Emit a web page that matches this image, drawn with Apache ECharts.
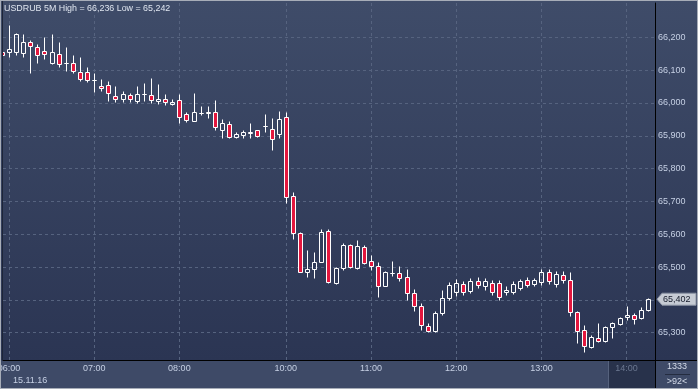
<!DOCTYPE html>
<html><head><meta charset="utf-8">
<script src="https://cdn.jsdelivr.net/npm/echarts@6/dist/echarts.min.js"></script>
<style>
html,body{margin:0;padding:0;background:#2b3553;}
#wrap{position:relative;width:698px;height:389px;overflow:hidden;background:linear-gradient(to bottom,#3f4c69 0px,#2b3553 360px,#3e4a67 361px,#3e4a67 389px);}
#c{position:absolute;left:0;top:0;width:698px;height:389px;}
#frame{position:absolute;left:0;top:0;width:696px;height:387px;border:1px solid #a7adb8;pointer-events:none;}
#inner{position:absolute;left:2px;top:1px;width:1px;height:359px;background:#1d2538;pointer-events:none;}
</style></head>
<body><div id="wrap"><div id="c"></div><div id="inner"></div><div id="frame"></div></div>
<script>
const times = ["05:55","06:00","06:05","06:10","06:15","06:20","06:25","06:30","06:35","06:40","06:45","06:50","06:55",
"07:00","07:05","07:10","07:15","07:20","07:25","07:30","07:35","07:40","07:45","07:50","07:55",
"08:00","08:05","08:10","08:15","08:20","08:25","08:30","08:35","08:40","08:45",
"09:35","09:40","09:45","09:50","09:55",
"10:00","10:05","10:10","10:15","10:20","10:25","10:30","10:35","10:40","10:45","10:50","10:55",
"11:00","11:05","11:10","11:15","11:20","11:25","11:30","11:35","11:40","11:45","11:50","11:55",
"12:00","12:05","12:10","12:15","12:20","12:25","12:30","12:35","12:40","12:45","12:50","12:55",
"13:00","13:05","13:10","13:15","13:20","13:25","13:30","13:35","13:40","13:45","13:50","13:55",
"14:00","14:05","14:10","14:15"];
const open = [66155,66156,66156,66151,66185,66170,66157,66123,66148,66121,
66121,66095,66093,66069,66051,66055,66021,66013,66024,66005,
66026,66023,66007,66011,65997,66008,65966,65946,65970,65969,
65971,65918,65935,65897,65903,65908,65917,65930,65920,65904,
65956,65716,65603,65484,65493,65516,65609,65452,65498,65566,
65496,65561,65517,65502,65443,65483,65481,65470,65421,65381,
65320,65305,65360,65406,65424,65448,65427,65457,65442,65452,
65452,65424,65424,65436,65461,65448,65455,65485,65448,65476,
65461,65363,65308,65257,65285,65274,65316,65326,65347,65353,
65344,65368];
const close = [66146,66163,66210,66186,66173,66145,66148,66154,66118,66121,
66097,66072,66070,66069,66045,66029,66013,66027,66011,66026,
66026,66008,66012,66002,66004,65956,65948,65971,65970,65971,
65926,65939,65895,65905,65911,65911,65899,65930,65889,65950,
65714,65603,65486,65493,65514,65606,65455,65496,65566,65499,
65563,65513,65502,65443,65485,65483,65467,65421,65381,65323,
65305,65360,65406,65445,65452,65424,65457,65445,65457,65424,
65409,65430,65448,65457,65445,65461,65485,65457,65479,65461,
65363,65306,65259,65288,65276,65316,65331,65346,65354,65342,
65368,65402];
const low = [66140,66141,66146,66141,66092,66123,66135,66118,66110,66098,
66090,66066,66065,66034,66037,66007,66003,66003,66004,65999,
66007,66001,65996,65994,65993,65938,65941,65944,65962,65955,
65918,65894,65894,65892,65893,65892,65897,65911,65857,65894,
65696,65586,65484,65471,65467,65514,65451,65449,65491,65497,
65494,65510,65491,65410,65441,65474,65457,65400,65366,65308,
65302,65302,65354,65400,65412,65415,65421,65436,65430,65415,
65400,65415,65418,65430,65439,65442,65445,65448,65439,65452,
65351,65268,65242,65254,65271,65272,65283,65324,65339,65326,
65342,65366];
const high = [66160,66236,66214,66210,66192,66180,66202,66210,66186,66171,
66147,66139,66110,66092,66073,66067,66052,66037,66029,66052,
66062,66076,66058,66027,66012,66027,65972,66030,65991,65991,
66009,65951,65945,65911,65918,65940,65919,65966,65953,65975,
65971,65728,65607,65552,65546,65616,65616,65501,65572,65570,
65582,65566,65537,65516,65489,65518,65503,65494,65433,65391,
65329,65366,65430,65455,65464,65457,65467,65470,65467,65461,
65461,65442,65457,65464,65470,65467,65494,65494,65488,65488,
65485,65366,65323,65292,65329,65321,65334,65349,65381,65359,
65377,65407];
const yTicks = [65300,65400,65500,65600,65700,65800,65900,66000,66100,66200];
const symbol = "USDRUB", period = "5M", dateLabel = "15.11.16";
const counterTop = "1333";

const hourIdx = times.map((t,i)=> t.endsWith(':00') ? i : -1).filter(i=>i>=0);
const fmt = v => String(Math.round(v)).replace(/\B(?=(\d{3})+$)/g, ',');
const lastIdx = times.length - 1;
const dimHour = times[hourIdx[hourIdx.length-1]];
const FONT = 'Arial, "Liberation Sans", sans-serif';
const FS = 9;
const UP_FILL = 'rgba(0,0,0,0)', DOWN_FILL = '#e3173e', EDGE = '#ffffff';

function renderCandle(params, api) {
  const x = api.value(0), o = api.value(1), c = api.value(2), l = api.value(3), h = api.value(4);
  const pO = api.coord([x, o]), pC = api.coord([x, c]), pL = api.coord([x, l]), pH = api.coord([x, h]);
  const cx = Math.round(pO[0]) + 0.5;
  const yTop = Math.round(Math.min(pO[1], pC[1])) + 0.5;
  const yBot = Math.round(Math.max(pO[1], pC[1])) + 0.5;
  const yH = Math.round(pH[1]) + 0.5, yL = Math.round(pL[1]) + 0.5;
  const up = c >= o;
  return {type:'group', children:[
    {type:'line', shape:{x1:cx, y1:yH, x2:cx, y2:yTop}, style:{stroke:EDGE, lineWidth:1}},
    {type:'line', shape:{x1:cx, y1:yBot, x2:cx, y2:yL}, style:{stroke:EDGE, lineWidth:1}},
    {type:'rect', shape:{x:cx-2, y:yTop, width:4, height:yBot-yTop}, style:{fill:up?UP_FILL:DOWN_FILL, stroke:EDGE, lineWidth:1}}
  ]};
}

const chart = echarts.init(document.getElementById('c'), null, {renderer:'canvas'});
const option = {
  animation:false,
  backgroundColor:'transparent',
  grid:{left:3, top:3, width:652, height:357, containLabel:false, outerBoundsMode:'none'},
  xAxis:{
    type:'value', min:0.155, max:92,
    axisLine:{show:true, onZero:false, lineStyle:{color:'#000', width:1}},
    axisTick:{show:false, customValues:hourIdx},
    axisLabel:{customValues:hourIdx, formatter:v=>times[v], fontSize:FS, fontFamily:FONT, margin:4,
      color:(v)=> times[v]===dimHour ? '#6b7790' : '#c6d0e4'},
    splitLine:{show:true, lineStyle:{color:'#56637f', type:[3,3], width:1}}
  },
  yAxis:{
    type:'value', position:'right', min:65216.8, max:66304.5,
    axisLine:{show:true, onZero:false, lineStyle:{color:'#000', width:1}},
    axisTick:{show:false, customValues:yTicks},
    axisLabel:{customValues:yTicks, formatter:fmt, color:'#c6d0e4', fontSize:FS, fontFamily:FONT, margin:3, align:'left'},
    splitLine:{show:true, lineStyle:{color:'#56637f', type:[3,3], width:1}}
  },
  series:[{
    type:'custom', clip:true,
    data: open.map((o,i)=>[i, o, close[i], low[i], high[i]]),
    encode:{x:0, y:[1,2,3,4]},
    renderItem: renderCandle
  }],
  graphic:[
    {type:'rect', z:-1, shape:{x:608, y:361, width:47, height:27}, style:{fill:'#28324b'}},
    {type:'line', z:-1, shape:{x1:608.5, y1:361, x2:608.5, y2:388}, style:{stroke:'#56627d', lineWidth:1}},
    {type:'line', z:50, shape:{x1:655.5, y1:360, x2:655.5, y2:388}, style:{stroke:'#000', lineWidth:1}},
    {type:'line', z:50, shape:{x1:655, y1:360.5, x2:698, y2:360.5}, style:{stroke:'#000', lineWidth:1}},
    {type:'text', z:50, x:677, y:367, style:{text:counterTop, fill:'#d3dae8', font:FS+'px '+FONT, textAlign:'center', textVerticalAlign:'middle'}},
    {type:'line', z:50, shape:{x1:665, y1:374.5, x2:690, y2:374.5}, style:{stroke:'#242c40', lineWidth:1}},
    {type:'text', z:50, x:677, y:381.5, style:{text:'>'+times.length+'<', fill:'#d3dae8', font:FS+'px '+FONT, textAlign:'center', textVerticalAlign:'middle'}},
    {type:'text', z:50, x:4, y:8.5, style:{text:symbol+' '+period+' High = '+fmt(Math.max(...high))+' Low = '+fmt(Math.min(...low)), fill:'#dfe5ef', font:'8.9px '+FONT, textVerticalAlign:'middle'}},
    {type:'text', z:50, x:13, y:381, style:{text:dateLabel, fill:'#c6d0e4', font:FS+'px '+FONT, textVerticalAlign:'middle'}}
  ]
};
chart.setOption(option);
const py = chart.convertToPixel({yAxisIndex:0}, close[lastIdx]);
chart.setOption({graphic: option.graphic.concat([
  {type:'polygon', z:60, shape:{points:[[657,py],[662,py-6],[696,py-6],[696,py+6],[662,py+6]]}, style:{fill:'#c6cbd4', stroke:'#8c93a3', lineWidth:1}},
  {type:'text', z:61, x:663, y:py, style:{text:fmt(close[lastIdx]), fill:'#151b2a', font:FS+'px '+FONT, textVerticalAlign:'middle'}}
])});
</script>
</body></html>
